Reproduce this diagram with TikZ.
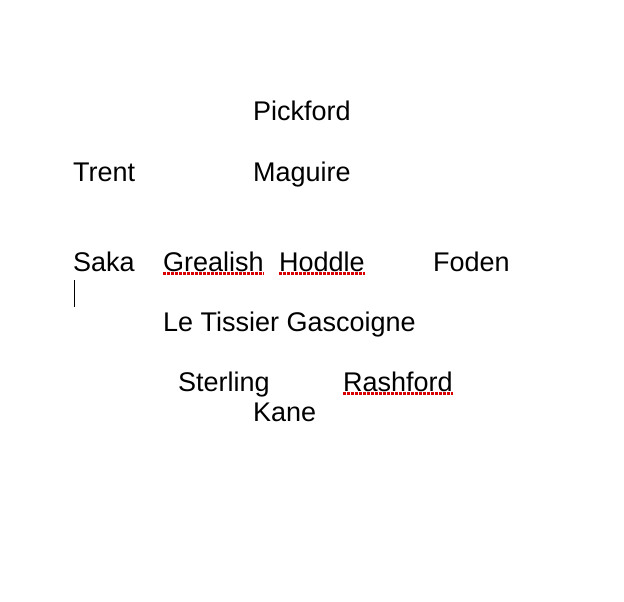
\documentclass[tikz,border=0pt]{standalone}
\usepackage{fontspec}
\setmainfont{Liberation Sans}
\begin{document}
\begin{tikzpicture}[x=1pt, y=-1pt,
  every node/.style={font=\fontsize{27}{30}\selectfont, anchor=base west, inner sep=0pt},
  spell/.style={red!85!black, line width=2.2pt, dash pattern=on 2.5pt off 1.5pt}]

\useasboundingbox (0,0) rectangle (624,602);

% Player names
\node (pickford) at (253,120) {Pickford};
\node (trent) at (73,181) {Trent};
\node (maguire) at (253,181) {Maguire};
\node (saka) at (73,271) {Saka};
\node (grealish) at (163,271) {Grealish};
\node (hoddle) at (279,271) {Hoddle};
\node (foden) at (433,271) {Foden};
\node (letissier) at (163,331) {Le Tissier Gascoigne};
\node (sterling) at (178,391) {Sterling};
\node (rashford) at (343,391) {Rashford};
\node (kane) at (253,421) {Kane};

% Spell check underlines
\foreach \n in {grealish, hoddle, rashford} {
	\draw[spell] ([yshift=-2.5pt]\n.base west) -- ([yshift=-2.5pt]\n.base east);
}

% Text cursor
\coordinate (cursortop) at (74,280);
\coordinate (cursorbot) at (74,307);
\draw[line width=1pt] (cursortop) -- (cursorbot);

\end{tikzpicture}
\end{document}
